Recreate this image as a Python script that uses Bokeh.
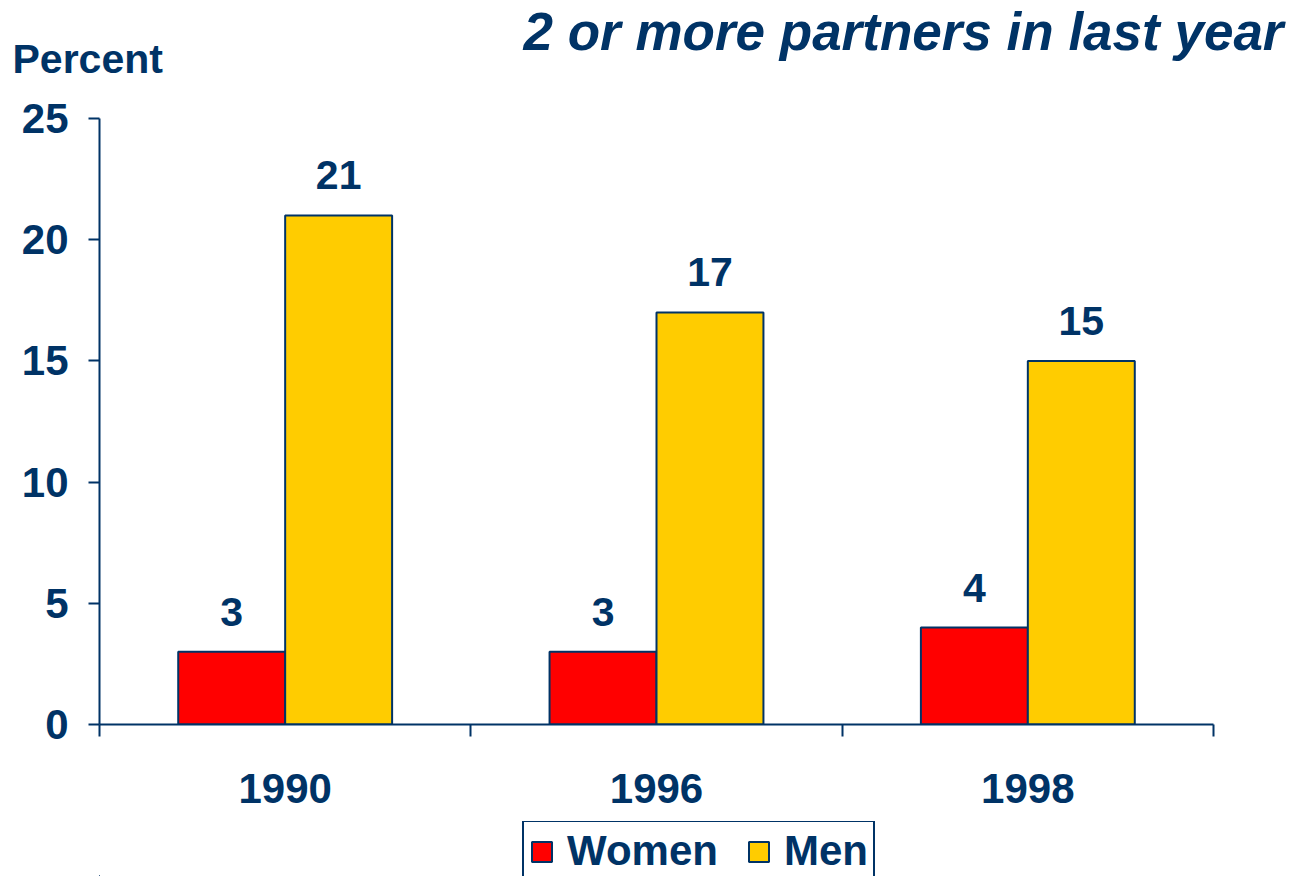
import numpy as np
from bokeh.plotting import figure
from bokeh.layouts import column
from bokeh.models import ColumnDataSource, FixedTicker, Label, Legend, LegendItem, Range1d
from bokeh.core.properties import value
from bokeh.embed import file_html
from bokeh.resources import INLINE

years = ["1990", "1996", "1998"]
women = [3, 3, 4]
men = [21, 17, 15]
y_ticks = [0, 5, 10, 15, 20, 25]
title_text = "2 or more partners in last year"
y_label = "Percent"
series_names = ["Women", "Men"]

NAVY = "#003366"
RED = "#FF0000"
GOLD = "#FFCC00"
FONT = "Liberation Sans"
BW = 0.288

centers = np.arange(len(years)) + 0.5

p = figure(frame_width=1114, frame_height=606,
           x_range=Range1d(0, len(years)), y_range=Range1d(y_ticks[0], y_ticks[-1]),
           output_backend="svg", toolbar_location=None,
           min_border_left=99, min_border_right=78,
           min_border_top=118, min_border_bottom=97)
p.title.visible = False

src_w = ColumnDataSource(dict(x=centers - BW / 2, top=women, lab=[str(v) for v in women]))
src_m = ColumnDataSource(dict(x=centers + BW / 2, top=men, lab=[str(v) for v in men]))

bar_w = dict(fill_color=RED, line_color=NAVY, line_width=2)
bar_m = dict(fill_color=GOLD, line_color=NAVY, line_width=2)
p.vbar(x="x", top="top", width=BW, source=src_w, **bar_w)
p.vbar(x="x", top="top", width=BW, source=src_m, **bar_m)

for src in (src_w, src_m):
    p.text(x="x", y="top", text="lab", source=src, y_offset=-40,
           text_align="center", text_baseline="alphabetic",
           text_font=value(FONT), text_font_size="41px", text_font_style="bold",
           text_color=NAVY)

p.grid.visible = False
p.outline_line_color = None
p.background_fill_color = "white"
p.border_fill_color = "white"

for ax in (p.xaxis[0], p.yaxis[0]):
    ax.axis_line_color = NAVY
    ax.axis_line_width = 2
    ax.major_label_text_font = FONT
    ax.major_label_text_font_size = "42px"
    ax.major_label_text_font_style = "bold"
    ax.major_label_text_color = NAVY

xa = p.xaxis[0]
xa.ticker = FixedTicker(ticks=list(centers), minor_ticks=list(range(len(years) + 1)))
xa.major_label_overrides = {float(c): y for c, y in zip(centers, years)}
xa.major_tick_line_color = None
xa.major_tick_out = 12
xa.major_tick_in = 0
xa.minor_tick_line_color = NAVY
xa.minor_tick_line_width = 2
xa.minor_tick_out = 12
xa.minor_tick_in = 0
xa.major_label_standoff = 37

ya = p.yaxis[0]
ya.ticker = FixedTicker(ticks=y_ticks)
ya.major_tick_line_color = NAVY
ya.major_tick_line_width = 2
ya.major_tick_out = 11
ya.major_tick_in = 0
ya.minor_tick_line_color = None
ya.major_label_standoff = 20

p.add_layout(Label(x=-87, y=60, x_units="screen", y_units="screen", text=y_label,
                   text_align="left", text_baseline="alphabetic",
                   text_font=FONT, text_font_size="41px", text_font_style="bold",
                   text_color=NAVY), "above")
p.add_layout(Label(x=1184, y=41, x_units="screen", y_units="screen", text=title_text,
                   text_align="right", text_baseline="alphabetic",
                   text_font=FONT, text_font_size="53px", text_font_style="bold italic",
                   text_color=NAVY), "above")

# legend strip underneath the chart
q = figure(width=1291, height=55, x_range=Range1d(100, 101), y_range=Range1d(100, 101),
           output_backend="svg", toolbar_location=None,
           x_axis_location=None, y_axis_location=None,
           min_border_left=0, min_border_right=0, min_border_top=0, min_border_bottom=0)
q.title.visible = False
q.grid.visible = False
q.outline_line_color = None
q.background_fill_color = "white"
q.border_fill_color = "white"
lw = q.vbar(x="x", top="top", width=BW, source=src_w, **bar_w)
lm = q.vbar(x="x", top="top", width=BW, source=src_m, **bar_m)

legend = Legend(items=[LegendItem(label=series_names[0], renderers=[lw]),
                       LegendItem(label=series_names[1], renderers=[lm])],
                orientation="horizontal", location=(423, -6),
                label_text_font=FONT, label_text_font_size="42px", label_text_font_style="bold",
                label_text_color=NAVY, glyph_width=25, glyph_height=25,
                label_standoff=13, spacing=28, padding=5, margin=0,
                border_line_color=NAVY, border_line_width=2, border_line_alpha=1.0,
                background_fill_color="white", background_fill_alpha=1.0)
q.add_layout(legend)

layout = column(p, q, spacing=0)
open("out.html", "w").write(file_html(layout, INLINE))
